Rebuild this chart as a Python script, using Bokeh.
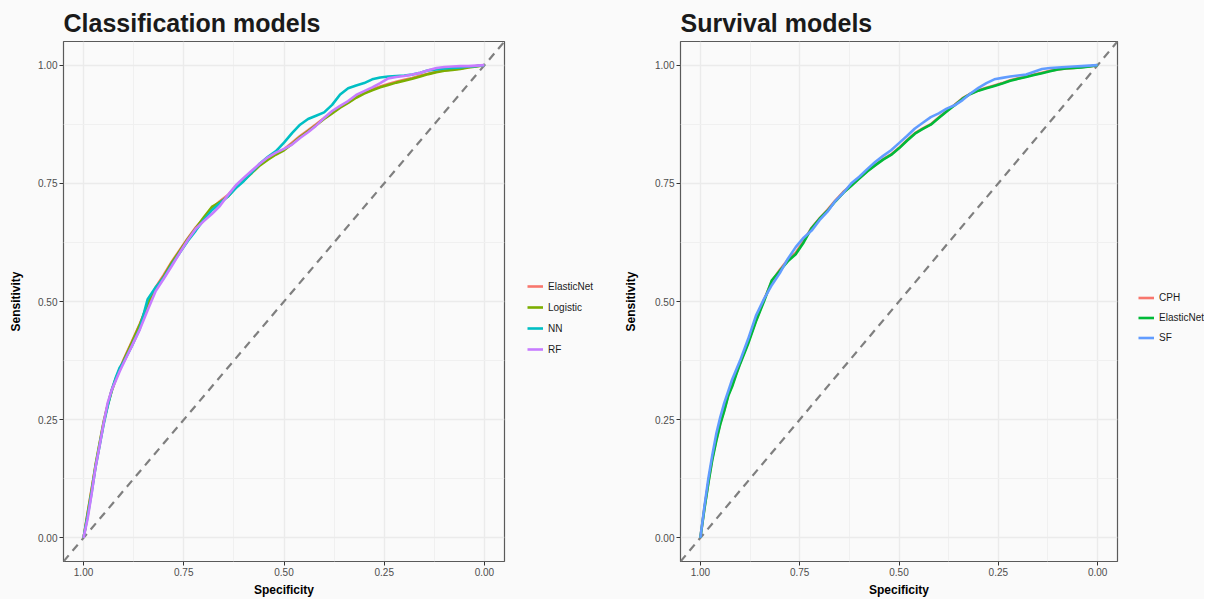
from bokeh.plotting import figure
from bokeh.layouts import row
from bokeh.models import (Range1d, FixedTicker, PrintfTickFormatter, Slope, Legend,
                          LegendItem)
from bokeh.embed import file_html
from bokeh.resources import INLINE

# ---------------- data ----------------
spec_grid = [1.00, 0.99, 0.98, 0.97, 0.96, 0.95, 0.94, 0.93, 0.92, 0.91, 0.90,
             0.88, 0.86, 0.84, 0.82, 0.80, 0.78, 0.76, 0.74, 0.72, 0.70,
             0.68, 0.66, 0.64, 0.62, 0.60, 0.58, 0.56, 0.54, 0.52, 0.50,
             0.48, 0.46, 0.44, 0.42, 0.40, 0.38, 0.36, 0.34, 0.32, 0.30,
             0.28, 0.26, 0.24, 0.22, 0.20, 0.18, 0.16, 0.14, 0.12, 0.10,
             0.08, 0.06, 0.04, 0.02, 0.00]

# Classification models
cls_names = ["ElasticNet", "Logistic", "NN", "RF"]
cls_elasticnet = [0.000, 0.052, 0.103, 0.152, 0.198, 0.243, 0.281, 0.312, 0.336, 0.357, 0.377,
                  0.414, 0.452, 0.493, 0.530, 0.556, 0.584, 0.609, 0.634, 0.657, 0.676,
                  0.697, 0.712, 0.725, 0.744, 0.759, 0.775, 0.790, 0.802, 0.812, 0.822,
                  0.836, 0.850, 0.862, 0.875, 0.888, 0.900, 0.912, 0.922, 0.933, 0.942,
                  0.949, 0.955, 0.960, 0.965, 0.969, 0.973, 0.978, 0.982, 0.986, 0.989,
                  0.991, 0.993, 0.996, 0.998, 1.000]
cls_logistic = [0.000, 0.050, 0.100, 0.155, 0.200, 0.245, 0.280, 0.310, 0.335, 0.355, 0.375,
                0.412, 0.450, 0.495, 0.528, 0.553, 0.582, 0.607, 0.632, 0.655, 0.678,
                0.700, 0.710, 0.722, 0.742, 0.757, 0.772, 0.788, 0.800, 0.811, 0.820,
                0.833, 0.848, 0.860, 0.873, 0.886, 0.898, 0.910, 0.920, 0.931, 0.940,
                0.947, 0.953, 0.958, 0.963, 0.967, 0.971, 0.976, 0.981, 0.985, 0.988,
                0.990, 0.992, 0.995, 0.997, 1.000]
cls_nn = [0.000, 0.045, 0.095, 0.150, 0.195, 0.240, 0.278, 0.312, 0.338, 0.360, 0.372,
          0.405, 0.442, 0.505, 0.530, 0.550, 0.578, 0.603, 0.628, 0.650, 0.673,
          0.693, 0.708, 0.722, 0.740, 0.755, 0.773, 0.792, 0.806, 0.818, 0.836,
          0.856, 0.874, 0.886, 0.893, 0.900, 0.916, 0.938, 0.951, 0.957, 0.962,
          0.970, 0.974, 0.976, 0.977, 0.978, 0.980, 0.984, 0.989, 0.991, 0.993,
          0.994, 0.995, 0.997, 0.998, 1.000]
cls_rf = [0.000, 0.040, 0.092, 0.150, 0.195, 0.242, 0.285, 0.312, 0.332, 0.352, 0.370,
          0.405, 0.440, 0.482, 0.522, 0.548, 0.575, 0.603, 0.630, 0.654, 0.670,
          0.685, 0.702, 0.725, 0.746, 0.762, 0.777, 0.792, 0.805, 0.815, 0.823,
          0.832, 0.846, 0.858, 0.872, 0.888, 0.903, 0.914, 0.924, 0.937, 0.945,
          0.953, 0.962, 0.972, 0.975, 0.977, 0.980, 0.984, 0.989, 0.994, 0.996,
          0.997, 0.998, 0.998, 0.999, 1.000]

# Survival models
surv_names = ["CPH", "ElasticNet", "SF"]
surv_cph = [0.000, 0.062, 0.117, 0.168, 0.207, 0.242, 0.270, 0.302, 0.323, 0.347, 0.370,
            0.413, 0.460, 0.503, 0.543, 0.567, 0.588, 0.603, 0.628, 0.656, 0.676,
            0.694, 0.714, 0.732, 0.746, 0.761, 0.776, 0.789, 0.801, 0.811, 0.825,
            0.841, 0.856, 0.866, 0.875, 0.889, 0.903, 0.916, 0.930, 0.940, 0.947,
            0.952, 0.957, 0.962, 0.968, 0.972, 0.976, 0.980, 0.984, 0.988, 0.991,
            0.993, 0.994, 0.996, 0.997, 1.000]
surv_elasticnet = [0.000, 0.060, 0.115, 0.165, 0.205, 0.240, 0.268, 0.300, 0.320, 0.345, 0.368,
                   0.410, 0.458, 0.500, 0.545, 0.565, 0.585, 0.600, 0.625, 0.655, 0.675,
                   0.692, 0.712, 0.730, 0.745, 0.760, 0.775, 0.788, 0.800, 0.810, 0.824,
                   0.840, 0.855, 0.865, 0.874, 0.888, 0.902, 0.915, 0.929, 0.939, 0.946,
                   0.951, 0.956, 0.961, 0.967, 0.971, 0.975, 0.979, 0.983, 0.987, 0.991,
                   0.993, 0.994, 0.995, 0.997, 1.000]
surv_sf = [0.000, 0.065, 0.125, 0.175, 0.220, 0.255, 0.285, 0.310, 0.335, 0.355, 0.375,
           0.420, 0.470, 0.505, 0.535, 0.560, 0.590, 0.615, 0.635, 0.650, 0.672,
           0.690, 0.713, 0.730, 0.750, 0.764, 0.780, 0.795, 0.808, 0.820, 0.835,
           0.850, 0.866, 0.878, 0.890, 0.898, 0.908, 0.915, 0.926, 0.940, 0.952,
           0.962, 0.970, 0.973, 0.976, 0.978, 0.980, 0.986, 0.992, 0.994, 0.995,
           0.996, 0.997, 0.998, 0.999, 1.000]

major_ticks = [0.0, 0.25, 0.5, 0.75, 1.0]
minor_ticks = [0.125, 0.375, 0.625, 0.875]

# ---------------- style ----------------
BG = "#FAFAFA"
FONT = "Liberation Sans"
H = 596
cls_colors = ["#F8766D", "#7CAE00", "#00BFC4", "#C77CFF"]
surv_colors = ["#F8766D", "#00BA38", "#619CFF"]


def make_panel(title, series, colors, frame_w, border_left, ylabel_standoff):
    p = figure(frame_width=frame_w, frame_height=520, output_backend="svg",
               toolbar_location=None,
               x_range=Range1d(1.05, -0.05), y_range=Range1d(-0.05, 1.05),
               min_border_left=border_left, min_border_right=2,
               min_border_top=41, min_border_bottom=35,
               background_fill_color=BG, border_fill_color=BG, title=title)
    p.title.text_font = FONT
    p.title.text_font_size = "25px"
    p.title.text_font_style = "bold"
    p.title.text_color = "#1A1A1A"
    p.title.standoff = 10
    p.title.offset = 0
    p.title.align = "left"

    p.outline_line_color = "#5A5A5A"
    p.outline_line_width = 1.2

    ticker = FixedTicker(ticks=major_ticks, minor_ticks=minor_ticks)
    for ax in (p.xaxis[0], p.yaxis[0]):
        ax.ticker = ticker
        ax.formatter = PrintfTickFormatter(format="%.2f")
        ax.axis_line_color = None
        ax.major_tick_line_color = "#333333"
        ax.major_tick_out = 4
        ax.major_tick_in = 0
        ax.minor_tick_line_color = None
        ax.major_label_text_font = FONT
        ax.major_label_text_font_size = "10px"
        ax.major_label_text_color = "#4D4D4D"
        ax.major_label_standoff = 2
        ax.axis_label_text_font = FONT
        ax.axis_label_text_font_size = "12px"
        ax.axis_label_text_font_style = "bold"
        ax.axis_label_text_color = "#000000"
    p.xaxis[0].axis_label = "Specificity"
    p.xaxis[0].axis_label_standoff = 4
    p.yaxis[0].axis_label = "Sensitivity"
    p.yaxis[0].axis_label_standoff = ylabel_standoff

    p.grid.grid_line_color = "#EBEBEB"
    p.grid.grid_line_width = 1.3
    p.grid.minor_grid_line_color = "#F0F0F0"
    p.grid.minor_grid_line_width = 1.0

    p.add_layout(Slope(gradient=-1, y_intercept=1, line_color="#7F7F7F",
                       line_width=2.2, line_dash="8 6", level="underlay"))

    for sens, col in zip(series, colors):
        p.line(spec_grid, sens, line_color=col, line_width=2.6)
    return p


def make_legend(series, names, colors, width, legend_xy, item_h):
    # narrow companion figure that only carries the legend
    lf = figure(width=width, height=H, min_border=0, output_backend="svg",
                toolbar_location=None, x_axis_location=None, y_axis_location=None,
                x_range=Range1d(1.05, -0.05), y_range=Range1d(-0.05, 1.05),
                background_fill_color=BG, border_fill_color=BG,
                outline_line_color=None)
    lf.grid.grid_line_color = None
    items = []
    for sens, name, col in zip(series, names, colors):
        r = lf.line(spec_grid, sens, line_color=col, line_width=2.6, visible=False)
        items.append(LegendItem(label=name, renderers=[r]))
    leg = Legend(items=items, location=legend_xy, padding=0, margin=0, spacing=3,
                 glyph_width=16, glyph_height=item_h, label_height=item_h,
                 label_standoff=5, label_text_font=FONT, label_text_font_size="10px",
                 label_text_color="#1A1A1A", background_fill_alpha=0,
                 border_line_color=None, inactive_fill_alpha=0)
    lf.add_layout(leg)
    return lf


cls_series = [cls_elasticnet, cls_logistic, cls_nn, cls_rf]
surv_series = [surv_cph, surv_elasticnet, surv_sf]

p1 = make_panel("Classification models", cls_series, cls_colors, 441, 63, 12)
l1 = make_legend(cls_series, cls_names, cls_colors, 100, (21, 200), 18)
p2 = make_panel("Survival models", surv_series, surv_colors, 437, 74, 14)
l2 = make_legend(surv_series, surv_names, surv_colors, 85, (19, 212), 17)

layout = row(p1, l1, p2, l2)
layout.styles = {"background-color": BG}

html = file_html(layout, INLINE)
html = html.replace("<body>", '<body style="background-color:#FAFAFA;">', 1)
open("out.html", "w").write(html)
